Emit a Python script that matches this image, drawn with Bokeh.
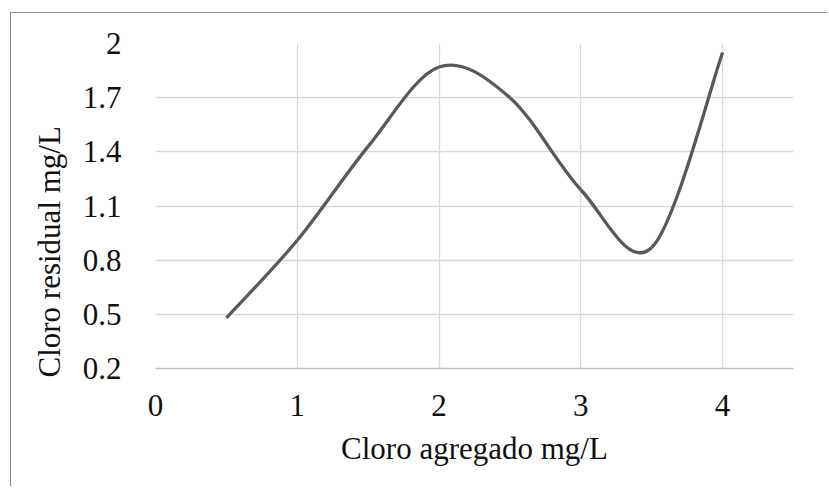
import numpy as np
from bokeh.plotting import figure
from bokeh.models import Title, FixedTicker
from bokeh.embed import file_html
from bokeh.resources import INLINE

# Data
cloro_agregado = [0.5, 1.0, 1.5, 2.0, 2.5, 3.0, 3.5, 4.0]
cloro_residual = [0.48, 0.91, 1.43, 1.87, 1.70, 1.19, 0.87, 1.95]
x_ticks = [0, 1, 2, 3, 4]
y_ticks = [0.2, 0.5, 0.8, 1.1, 1.4, 1.7, 2.0]
y_tick_labels = ["0.2", "0.5", "0.8", "1.1", "1.4", "1.7", "2"]

FONT = "Liberation Serif"
FS = "31px"
TXT = "#111111"

p = figure(width=817, height=474, output_backend="svg", toolbar_location=None,
           x_range=(0, 4.5), y_range=(0.2, 2.0),
           min_border_left=144, min_border_right=35, min_border_top=30, min_border_bottom=119)
p.styles = {"margin-left": "10px", "margin-top": "12px",
            "border-left": "1px solid #8c8c8c", "border-top": "1px solid #8c8c8c"}
p.outline_line_color = None
p.background_fill_color = "white"
p.border_fill_color = "white"

# Smoothed line (Excel-style Catmull-Rom Bezier segments through the data points)
xs = np.array(cloro_agregado)
ys = np.array(cloro_residual)
n = len(xs)
x0, y0, x1, y1, cx0, cy0, cx1, cy1 = [], [], [], [], [], [], [], []
for i in range(n - 1):
    ip = max(i - 1, 0)
    inn = min(i + 2, n - 1)
    x0.append(xs[i]); y0.append(ys[i])
    x1.append(xs[i + 1]); y1.append(ys[i + 1])
    cx0.append(xs[i] + (xs[i + 1] - xs[ip]) / 6.0)
    cy0.append(ys[i] + (ys[i + 1] - ys[ip]) / 6.0)
    cx1.append(xs[i + 1] - (xs[inn] - xs[i]) / 6.0)
    cy1.append(ys[i + 1] - (ys[inn] - ys[i]) / 6.0)

p.bezier(x0=x0, y0=y0, x1=x1, y1=y1, cx0=cx0, cy0=cy0, cx1=cx1, cy1=cy1,
         line_color="#595959", line_width=3.3)

# Axes
p.xaxis.ticker = FixedTicker(ticks=x_ticks)
p.yaxis.ticker = FixedTicker(ticks=y_ticks)
p.yaxis.major_label_overrides = dict(zip(y_ticks, y_tick_labels))
for ax in (p.xaxis, p.yaxis):
    ax.major_tick_line_color = None
    ax.minor_tick_line_color = None
    ax.major_label_text_font = FONT
    ax.major_label_text_font_size = FS
    ax.major_label_text_color = TXT
    ax.axis_label_text_font = FONT
    ax.axis_label_text_font_size = FS
    ax.axis_label_text_font_style = "normal"
    ax.axis_label_text_color = TXT
p.yaxis.axis_line_color = None
p.yaxis.major_label_standoff = 28
p.xaxis.axis_line_color = "#bfbfbf"
p.xaxis.axis_line_width = 1.5
p.xaxis.major_label_standoff = 20
p.xaxis.axis_label = "Cloro agregado mg/L"
p.xaxis.axis_label_standoff = 12

p.grid.grid_line_color = "#d9d9d9"
p.grid.grid_line_width = 1.3

# Y axis title, placed lower than the frame centre like the reference
p.add_layout(Title(text="Cloro residual mg/L", align="left", offset=-9, standoff=26,
                   text_font=FONT, text_font_size=FS, text_font_style="normal",
                   text_color=TXT), "left")

open("out.html", "w").write(file_html(p, INLINE))
